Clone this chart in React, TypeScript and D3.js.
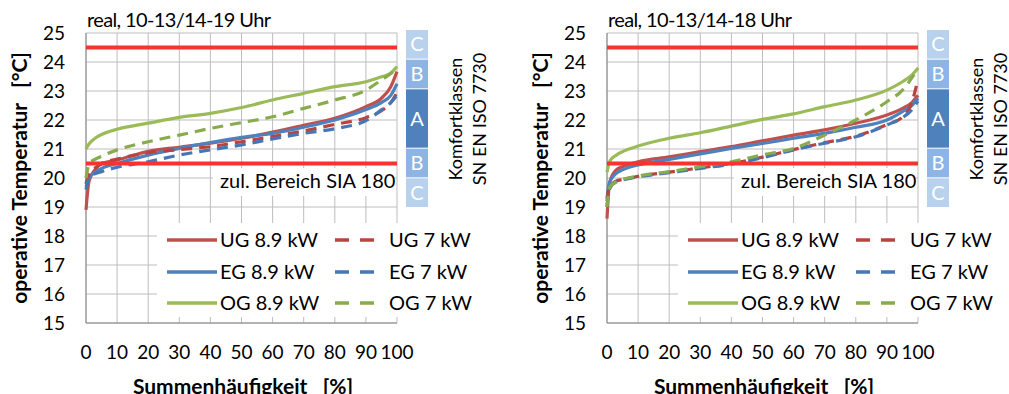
import React from "react";
import * as d3 from "d3";

const pct = [0, 0.5, 1, 3, 5, 10, 20, 30, 40, 50, 60, 70, 80, 90, 95, 98, 100];
const xTicks = [0, 10, 20, 30, 40, 50, 60, 70, 80, 90, 100];
const yTicks = [15, 16, 17, 18, 19, 20, 21, 22, 23, 24, 25];
const limits = [24.5, 20.5];

// Left chart: real, 10-13/14-19 Uhr
const L_UG89 = [18.9, 19.5, 19.9, 20.3, 20.5, 20.62, 20.92, 21.06, 21.2, 21.37, 21.58, 21.82, 22.06, 22.46, 22.75, 23.15, 23.67];
const L_EG89 = [19.7, 19.85, 20.0, 20.2, 20.33, 20.5, 20.79, 21.02, 21.22, 21.4, 21.54, 21.75, 22.0, 22.36, 22.6, 22.85, 23.25];
const L_OG89 = [21.0, 21.1, 21.18, 21.38, 21.5, 21.68, 21.89, 22.09, 22.23, 22.43, 22.69, 22.92, 23.15, 23.32, 23.49, 23.62, 23.84];
const L_UG7 = [19.8, 20.0, 20.15, 20.35, 20.5, 20.65, 20.87, 20.98, 21.08, 21.25, 21.43, 21.62, 21.85, 22.08, 22.32, 22.6, 22.95];
const L_EG7 = [19.6, 19.85, 20.0, 20.15, 20.22, 20.37, 20.56, 20.79, 20.97, 21.14, 21.35, 21.54, 21.7, 21.98, 22.35, 22.6, 22.85];
const L_OG7 = [20.0, 20.3, 20.5, 20.65, 20.75, 20.97, 21.25, 21.48, 21.71, 21.91, 22.11, 22.4, 22.69, 23.03, 23.38, 23.6, 23.8];

// Right chart: real, 10-13/14-18 Uhr
const R_UG89 = [18.6, 19.5, 19.9, 20.28, 20.39, 20.56, 20.73, 20.91, 21.08, 21.28, 21.48, 21.66, 21.89, 22.17, 22.4, 22.6, 22.85];
const R_EG89 = [19.3, 19.7, 19.9, 20.16, 20.28, 20.45, 20.64, 20.83, 21.02, 21.19, 21.37, 21.54, 21.75, 22.0, 22.29, 22.5, 22.75];
const R_OG89 = [20.2, 20.45, 20.6, 20.79, 20.91, 21.1, 21.37, 21.56, 21.79, 22.02, 22.21, 22.46, 22.69, 23.03, 23.32, 23.55, 23.78];
const R_UG7 = [19.2, 19.6, 19.7, 19.9, 19.95, 20.06, 20.2, 20.35, 20.5, 20.72, 20.98, 21.22, 21.44, 21.84, 22.1, 22.6, 23.4];
const R_EG7 = [19.0, 19.5, 19.65, 19.87, 19.93, 20.04, 20.18, 20.33, 20.48, 20.7, 20.97, 21.2, 21.42, 21.83, 22.08, 22.35, 22.65];
const R_OG7 = [19.0, 19.5, 19.7, 19.87, 19.95, 20.07, 20.22, 20.39, 20.56, 20.8, 21.02, 21.48, 22.0, 22.63, 23.03, 23.45, 23.8];

const seriesNames = ["UG 8.9 kW", "EG 8.9 kW", "OG 8.9 kW", "UG 7 kW", "EG 7 kW", "OG 7 kW"];
const seriesColors = ["#c0504d", "#4f81bd", "#9bbb59", "#b9443f", "#4677b5", "#88ab4e"];
const seriesDashed = [false, false, false, true, true, true];

const bandLabels = ["C", "B", "A", "B", "C"];
const bandLo = [24, 23, 21, 20, 19];
const bandHi = [25, 24, 23, 21, 20];
const bandColors = ["#b8d1ec", "#8db4e2", "#4f81bd", "#8db4e2", "#b8d1ec"];

const FONT = "Lato, 'Open Sans', sans-serif";

function Chart({ ox, title, data }: { ox: number; title: string; data: number[][] }) {
  const x = d3.scaleLinear().domain([0, 100]).range([ox + 86, ox + 397]);
  const y = d3.scaleLinear().domain([15, 25]).range([323, 33]);
  const yb = d3.scaleLinear().domain([19, 25]).range([208, 30]);
  const line = d3
    .line<[number, number]>()
    .x((d) => x(d[0]))
    .y((d) => y(d[1]))
    .curve(d3.curveMonotoneX);

  const rows = [240, 272, 303];
  return (
    <g>
      {/* grid */}
      {yTicks.map((t) => (
        <line key={"gy" + t} x1={x(0)} x2={x(100)} y1={y(t)} y2={y(t)} stroke="#bdbdbd" strokeWidth={1} />
      ))}
      {xTicks.map((t) => (
        <line key={"gx" + t} x1={x(t)} x2={x(t)} y1={y(15)} y2={y(25)} stroke="#bdbdbd" strokeWidth={1} />
      ))}
      <line x1={x(0)} x2={x(0)} y1={y(15)} y2={y(25)} stroke="#868686" strokeWidth={1} />
      <line x1={x(0)} x2={x(100)} y1={y(15)} y2={y(15)} stroke="#868686" strokeWidth={1} />

      {/* legend background */}
      <rect x={ox + 157} y={223} width={330} height={94} fill="#fff" />
      {/* label box */}
      <rect x={ox + 213} y={168} width={180} height={28} fill="#fff" />
      <text x={ox + 220} y={188} fontSize={20} fontFamily={FONT} fill="#000">
        zul. Bereich SIA 180
      </text>

      {/* tick labels */}
      {yTicks.map((t) => (
        <text key={"ty" + t} x={ox + 65} y={y(t) + 7} fontSize={19} fontFamily={FONT} textAnchor="end" fill="#000">
          {t}
        </text>
      ))}
      {xTicks.map((t) => (
        <text key={"tx" + t} x={x(t)} y={359} fontSize={19} fontFamily={FONT} textAnchor="middle" fill="#000">
          {t}
        </text>
      ))}

      {/* title */}
      <text x={ox + 87} y={27} fontSize={20} fontFamily={FONT} fill="#000" textLength={184} lengthAdjust="spacing">
        {title}
      </text>

      {/* axis titles */}
      <text
        transform={`translate(${ox + 27},178) rotate(-90)`}
        fontSize={21}
        fontWeight="bold"
        fontFamily={FONT}
        textAnchor="middle"
        fill="#000"
        style={{ whiteSpace: "pre" }}
      >
        {"operative Temperatur   [°C]"}
      </text>
      <text
        x={ox + 243}
        y={394}
        fontSize={21}
        fontWeight="bold"
        fontFamily={FONT}
        textAnchor="middle"
        fill="#000"
        style={{ whiteSpace: "pre" }}
      >
        {"Summenhäufigkeit   [%]"}
      </text>

      {/* curves */}
      {data.map((vals, i) => (
        <path
          key={"s" + i}
          d={line(pct.map((p, j) => [p, vals[j]] as [number, number])) || ""}
          fill="none"
          stroke={seriesColors[i]}
          strokeWidth={3.2}
          strokeDasharray={seriesDashed[i] ? "11,7" : undefined}
          strokeLinejoin="round"
        />
      ))}

      {/* limit lines */}
      {limits.map((l) => (
        <line key={"l" + l} x1={x(0)} x2={x(100)} y1={y(l)} y2={y(l)} stroke="#f5332f" strokeWidth={4} />
      ))}

      {/* legend */}
      {seriesNames.map((n, i) => {
        const col = i < 3 ? 0 : 1;
        const ry = rows[i % 3];
        const lx1 = col === 0 ? ox + 167 : ox + 335;
        const lx2 = col === 0 ? ox + 217 : ox + 374;
        const tx = col === 0 ? ox + 220 : ox + 389;
        return (
          <g key={"lg" + i}>
            <line
              x1={lx1}
              x2={lx2}
              y1={ry}
              y2={ry}
              stroke={seriesColors[i]}
              strokeWidth={3.6}
              strokeDasharray={seriesDashed[i] ? "14,11" : undefined}
            />
            <text x={tx} y={ry + 7} fontSize={20} fontFamily={FONT} fill="#000">
              {n}
            </text>
          </g>
        );
      })}

      {/* comfort bands */}
      {bandLabels.map((b, i) => {
        const top = yb(bandHi[i]);
        const bot = yb(bandLo[i]) - 1;
        return (
          <g key={"b" + i}>
            <rect x={ox + 406} y={top} width={22} height={bot - top} fill={bandColors[i]} />
            <text
              x={ox + 417}
              y={(top + bot) / 2 + 7}
              fontSize={20}
              fontFamily={FONT}
              textAnchor="middle"
              fill="#fff"
            >
              {b}
            </text>
          </g>
        );
      })}
      <text transform={`translate(${ox + 462},119) rotate(-90)`} fontSize={18} fontFamily={FONT} textAnchor="middle" fill="#000">
        Komfortklassen
      </text>
      <text transform={`translate(${ox + 486},119) rotate(-90)`} fontSize={18} fontFamily={FONT} textAnchor="middle" fill="#000">
        SN EN ISO 7730
      </text>
    </g>
  );
}

export default function App() {
  const left = [L_UG89, L_EG89, L_OG89, L_UG7, L_EG7, L_OG7];
  const right = [R_UG89, R_EG89, R_OG89, R_UG7, R_EG7, R_OG7];
  return (
    <svg
      width={1009}
      height={394}
      style={{ position: "absolute", left: 0, top: 0, background: "#fff" }}
    >
      <rect x={0} y={0} width={1009} height={394} fill="#fff" />
      <Chart ox={0} title="real, 10-13/14-19 Uhr" data={left} />
      <Chart ox={521} title="real, 10-13/14-18 Uhr" data={right} />
    </svg>
  );
}
